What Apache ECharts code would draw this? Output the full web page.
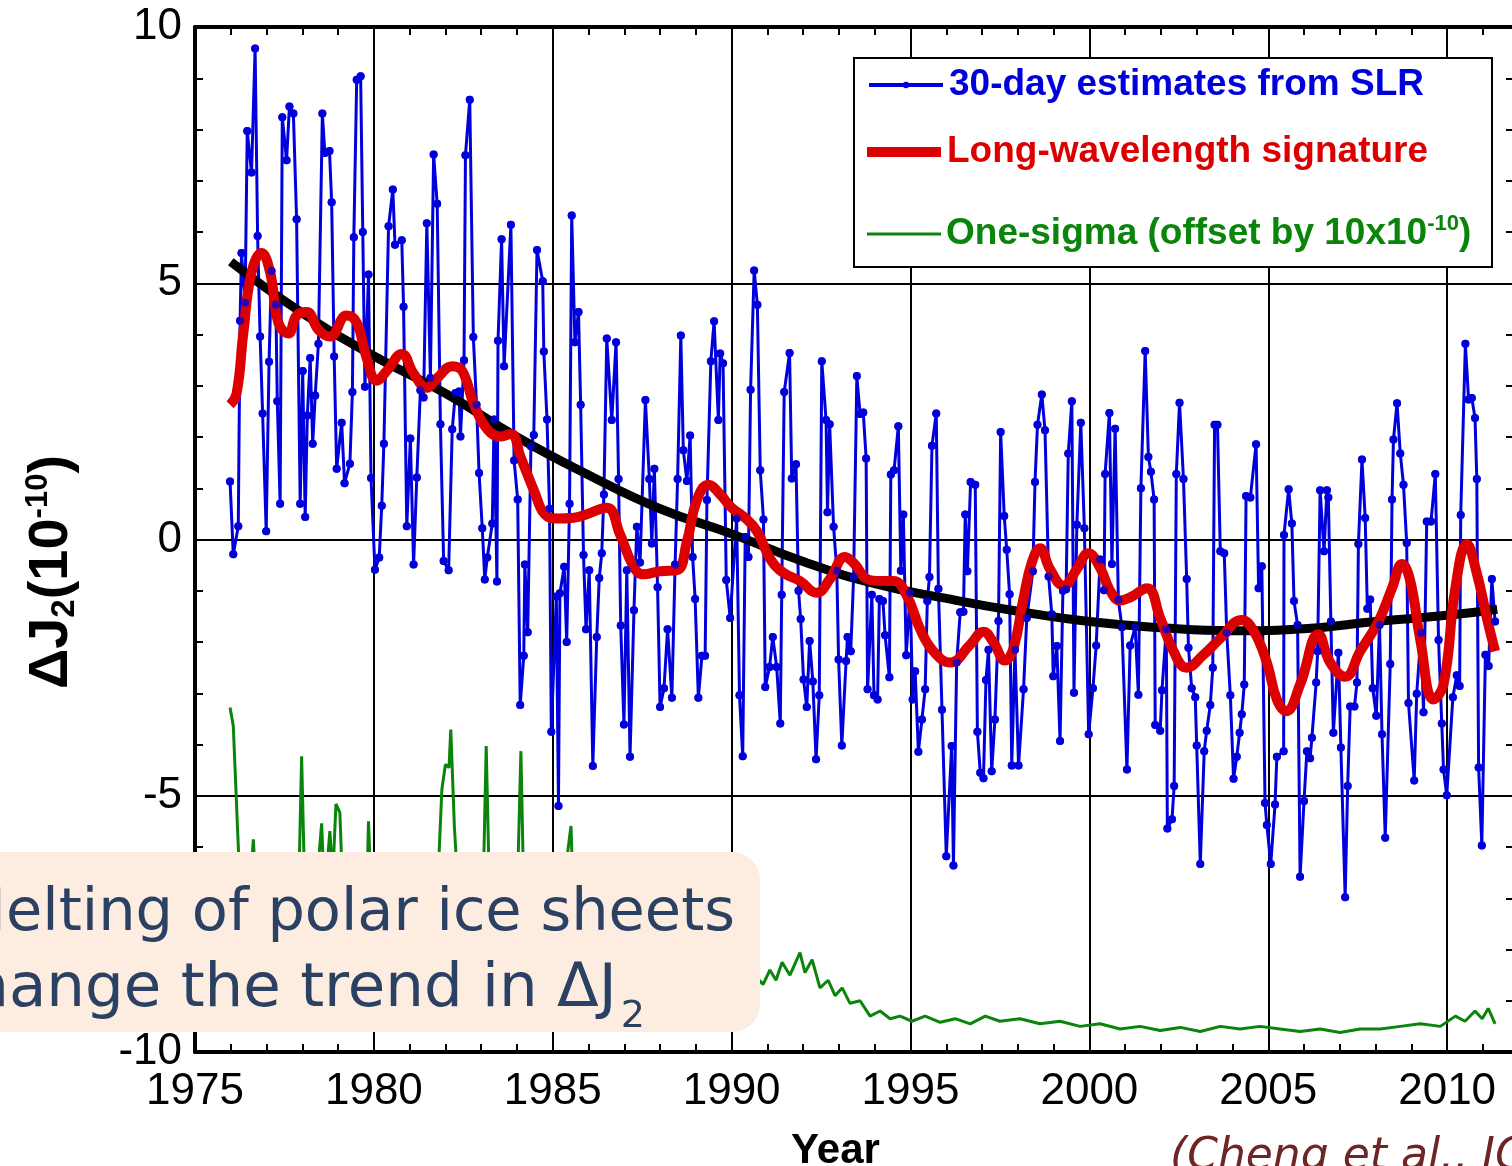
<!DOCTYPE html>
<html>
<head>
<meta charset="utf-8">
<script src="https://cdn.jsdelivr.net/npm/echarts@6/dist/echarts.min.js"></script>
<style>
  html, body { margin: 0; padding: 0; background: #ffffff; }
  #chart { width: 1512px; height: 1166px; }
</style>
</head>
<body>
<div id="chart"></div>
<script>
// 30-day J2 estimates from satellite laser ranging (units of 1e-10)
const slrYear = [
  1975.98,1976.07,1976.21,1976.26,1976.30,1976.40,1976.46,1976.58,1976.68,1976.75,1976.82,1976.89,1976.99,
  1977.07,1977.14,1977.26,1977.30,1977.38,1977.44,1977.56,1977.64,1977.75,1977.84,1977.94,
  1978.01,1978.08,1978.14,1978.22,1978.29,1978.36,1978.45,1978.56,1978.63,1978.76,1978.82,1978.89,1978.96,
  1979.10,1979.18,1979.33,1979.40,1979.44,1979.52,1979.63,1979.69,1979.75,1979.85,1979.92,
  1980.03,1980.15,1980.22,1980.28,1980.41,1980.53,1980.59,1980.78,1980.83,1980.92,
  1981.02,1981.11,1981.20,1981.30,1981.39,1981.48,1981.58,1981.67,1981.77,1981.86,1981.95,
  1982.09,1982.19,1982.28,1982.38,1982.42,1982.52,1982.56,1982.68,1982.78,1982.87,1982.94,
  1983.03,1983.10,1983.17,1983.31,1983.36,1983.44,1983.47,1983.57,1983.64,1983.83,1983.92,
  1984.02,1984.09,1984.19,1984.22,1984.30,1984.39,1984.47,1984.56,1984.72,1984.75,1984.84,1984.91,1984.96,
  1985.10,1985.16,1985.20,1985.32,1985.39,1985.47,1985.53,1985.62,1985.72,1985.78,1985.86,1985.93,
  1986.02,1986.12,1986.23,1986.30,1986.37,1986.43,1986.51,1986.65,1986.77,1986.84,1986.90,1986.99,
  1987.07,1987.16,1987.27,1987.35,1987.44,1987.59,1987.70,1987.77,1987.84,1987.93,
  1988.00,1988.11,1988.21,1988.33,1988.42,1988.49,1988.58,1988.65,1988.75,1988.84,1988.91,1988.98,
  1989.07,1989.17,1989.26,1989.31,1989.42,1989.51,1989.63,1989.68,1989.76,1989.85,1989.96,
  1990.14,1990.22,1990.31,1990.38,1990.47,1990.53,1990.63,1990.72,1990.80,1990.89,1990.94,
  1991.06,1991.15,1991.26,1991.36,1991.40,1991.47,1991.62,1991.68,1991.80,1991.87,1991.93,
  1992.01,1992.10,1992.18,1992.27,1992.36,1992.45,1992.52,1992.64,1992.68,1992.74,1992.85,1992.94,1992.99,
  1993.08,1993.20,1993.24,1993.33,1993.41,1993.50,1993.59,1993.68,1993.76,1993.80,1993.92,1993.98,
  1994.08,1994.13,1994.23,1994.29,1994.41,1994.45,1994.54,1994.66,1994.73,1994.80,1994.88,1994.99,
  1995.06,1995.13,1995.22,1995.32,1995.41,1995.47,1995.53,1995.60,1995.72,1995.78,1995.88,
  1996.00,1996.15,1996.20,1996.29,1996.39,1996.48,1996.53,1996.59,1996.68,1996.81,1996.87,1996.95,
  1997.04,1997.11,1997.18,1997.27,1997.36,1997.46,1997.52,1997.62,1997.69,1997.77,1997.83,1997.92,
  1998.02,1998.16,1998.25,1998.42,1998.48,1998.55,1998.67,1998.76,1998.86,1998.95,1998.99,
  1999.09,1999.18,1999.26,1999.35,1999.41,1999.51,1999.57,1999.65,1999.76,1999.86,1999.98,
  2000.10,2000.19,2000.30,2000.41,2000.44,2000.56,2000.63,2000.72,2000.81,2000.91,
  2001.05,2001.14,2001.28,2001.37,2001.44,2001.56,2001.65,2001.72,2001.81,2001.84,2001.98,
  2002.03,2002.15,2002.18,2002.31,2002.37,2002.43,2002.52,2002.63,2002.72,2002.77,2002.86,2002.96,
  2003.00,2003.10,2003.21,2003.28,2003.38,2003.45,2003.50,2003.58,2003.66,2003.77,2003.84,2003.94,
  2004.03,2004.12,2004.20,2004.26,2004.33,2004.38,2004.50,2004.66,2004.73,2004.82,2004.91,2004.96,
  2005.07,2005.19,2005.24,2005.43,2005.44,2005.57,2005.66,2005.72,2005.82,2005.89,
  2006.00,2006.08,2006.17,2006.22,2006.34,2006.38,2006.45,2006.56,2006.64,2006.68,2006.75,2006.82,2006.96,
  2007.03,2007.15,2007.22,2007.29,2007.41,2007.48,2007.52,2007.62,2007.71,2007.77,2007.85,2007.92,
  2008.02,2008.11,2008.18,2008.27,2008.41,2008.46,2008.50,2008.60,2008.69,2008.78,2008.87,2008.92,
  2009.08,2009.15,2009.27,2009.34,2009.43,2009.55,2009.67,2009.76,2009.85,2009.90,2009.99,
  2010.16,2010.27,2010.35,2010.38,2010.51,2010.60,2010.69,2010.78,2010.83,2010.88,2010.97,
  2011.07,2011.16,2011.25,2011.34
];
const slrValue = [
  1.13,-0.29,0.26,4.27,5.59,4.62,7.97,7.16,9.58,5.92,3.96,2.46,0.16,
  3.47,5.24,4.58,2.70,0.70,8.24,7.40,8.45,8.31,6.25,0.70,
  3.29,0.44,2.42,3.54,1.87,2.81,3.82,8.31,7.54,7.58,6.58,3.57,1.38,
  2.28,1.10,1.48,2.88,5.90,8.97,9.04,6.00,2.98,5.17,1.20,
  -0.59,-0.35,0.66,1.87,6.11,6.83,5.75,5.84,4.54,0.26,
  1.97,-0.49,1.21,2.91,2.77,6.17,3.15,7.51,6.55,2.25,-0.42,
  -0.60,2.15,2.86,2.89,2.01,3.50,7.50,8.58,3.95,2.63,1.30,
  0.22,-0.78,-0.35,0.31,2.34,-0.82,3.88,5.86,3.38,6.14,1.54,
  0.78,-3.23,-2.27,-0.49,-1.81,1.82,2.04,5.65,5.04,3.67,2.34,0.60,-3.75,
  -1.11,-5.20,-1.05,-0.53,-2.00,0.70,6.32,3.85,4.44,2.63,-0.30,-1.75,
  -0.60,-4.42,-1.90,-0.75,-0.27,0.88,3.92,2.33,3.85,1.18,-1.68,-3.61,
  -0.60,-4.24,-1.38,0.25,-0.45,2.72,1.18,-0.08,1.38,-0.93,
  -3.27,-2.90,-1.75,-3.09,-0.49,1.18,3.98,1.74,1.14,2.03,-0.34,-1.16,
  -3.09,-2.27,-2.27,0.77,3.48,4.26,2.33,3.63,3.44,-0.79,-1.53,
  0.41,-3.04,-4.23,0.05,-0.34,2.92,5.25,4.58,1.35,0.39,-2.88,
  -2.49,-1.90,-2.49,-3.59,-1.08,2.88,3.64,1.19,1.47,-1.00,-1.55,
  -2.73,-3.27,-1.98,-2.77,-4.29,-3.04,3.48,2.33,0.53,2.25,0.25,-0.61,-2.34,
  -4.02,-2.37,-1.90,-2.18,-0.73,3.19,2.45,2.48,1.58,-2.92,-1.08,-3.04,
  -3.12,-1.16,-1.20,-1.87,-2.69,1.27,1.35,2.21,-0.61,0.49,-2.26,-1.04,
  -3.12,-2.57,-4.14,-3.51,-2.92,-1.20,-0.73,1.83,2.46,-0.96,-3.32,
  -6.18,-4.03,-6.36,-2.40,-1.42,-1.41,0.49,-0.62,1.12,1.07,-3.75,-4.55,
  -4.66,-2.74,-2.15,-4.52,-3.51,-1.59,2.10,0.46,-0.20,-1.07,-4.41,-2.15,
  -4.41,-2.92,-1.53,-0.62,1.12,2.24,2.83,2.13,-0.72,-1.46,-2.67,
  -2.08,-3.93,-1.00,-0.97,1.68,2.70,-2.99,0.29,2.28,0.22,-3.80,
  -2.90,-2.07,-0.39,-0.99,1.28,2.47,-0.48,2.16,-1.17,-1.71,
  -4.49,-2.07,-1.71,-3.03,1.00,3.68,1.61,1.32,0.78,-3.62,-3.73,
  -2.94,-1.75,-5.64,-5.46,-4.81,1.28,2.67,1.18,-0.77,-2.11,-2.90,-3.08,
  -4.02,-6.33,-4.13,-3.73,-3.23,-2.50,2.24,2.24,-0.23,-0.27,-1.82,-3.04,
  -4.67,-4.24,-3.77,-3.41,-2.83,0.85,0.82,1.86,-0.95,-0.52,-5.14,-5.57,
  -6.33,-5.17,-4.24,-4.13,0.09,0.98,0.31,-1.20,-1.67,-6.58,
  -5.10,-4.13,-4.27,-3.87,-2.79,-2.18,0.96,-0.23,0.96,0.82,-1.60,-3.77,-2.21,
  -4.06,-6.98,-4.81,-3.26,-3.26,-2.79,-0.09,1.56,0.42,-1.35,-1.17,-2.90,
  -3.44,-1.67,-3.80,-5.82,-2.43,0.78,1.95,2.66,1.68,1.07,-0.07,-3.19,
  -4.70,-3.01,-1.82,-3.37,0.35,0.35,1.28,-1.96,-3.59,-4.49,-4.99,
  -3.08,-2.65,-2.86,0.48,3.82,2.73,2.76,2.37,1.18,-4.45,-5.97,
  -2.25,-2.47,-0.77,-1.60
];

// Long-wavelength signature
const longYear = [
  1975.98,1976.16,1976.35,1976.58,1976.86,1977.10,1977.33,1977.61,1977.84,1978.12,1978.45,1978.77,
  1979.24,1979.52,1979.80,1980.08,1980.36,1980.78,1981.11,1981.48,1981.77,1982.19,1982.47,1982.80,
  1983.17,1983.55,1983.83,1984.11,1984.49,1984.77,1985.14,1985.52,1985.86,1986.51,1986.88,1987.26,
  1987.53,1988.00,1988.47,1988.75,1989.03,1989.35,1989.68,1990.00,1990.33,1990.70,1991.08,1991.45,
  1991.91,1992.38,1992.75,1993.17,1993.45,1993.78,1994.15,1994.52,1994.90,1995.27,1995.64,1996.11,
  1996.67,1997.04,1997.32,1997.64,1997.88,1998.16,1998.39,1998.62,1998.90,1999.28,1999.65,1999.97,
  2000.30,2000.58,2000.86,2001.14,2001.61,2001.98,2002.35,2002.72,2003.19,2003.66,2004.26,2004.59,
  2004.96,2005.24,2005.50,2005.89,2006.40,2006.73,2007.15,2007.57,2008.08,2008.46,2008.74,2008.97,
  2009.25,2009.62,2009.90,2010.23,2010.55,2010.83,2011.11,2011.34
];
const longValue = [
  2.63,2.84,4.02,5.21,5.59,5.21,4.23,4.02,4.37,4.44,4.09,3.96,
  4.37,4.23,3.54,3.10,3.29,3.62,3.24,2.96,3.15,3.38,3.29,2.63,
  2.15,2.01,2.06,1.59,0.93,0.50,0.41,0.42,0.47,0.62,0.10,-0.53,
  -0.68,-0.62,-0.60,-0.04,0.77,1.07,0.88,0.62,0.45,0.17,-0.38,-0.65,
  -0.81,-1.04,-0.77,-0.34,-0.49,-0.77,-0.81,-0.81,-1.10,-1.75,-2.18,-2.40,
  -2.05,-1.80,-2.01,-2.36,-2.12,-1.14,-0.45,-0.17,-0.58,-0.90,-0.58,-0.27,
  -0.55,-1.00,-1.19,-1.13,-0.95,-1.53,-2.18,-2.50,-2.25,-1.93,-1.57,-1.78,
  -2.40,-3.12,-3.35,-2.83,-1.85,-2.40,-2.68,-2.18,-1.60,-0.95,-0.48,-0.81,
  -1.96,-3.12,-2.83,-0.95,-0.09,-0.66,-1.53,-2.18
];

// Fitted secular trend
const trendYear = [1976.0,1978.0,1980.0,1982.0,1984.0,1986.0,1988.0,1990.0,1992.0,1994.0,1996.0,1998.0,2000.0,2002.0,2004.0,2006.0,2008.0,2010.0,2011.4];
const trendValue = [5.42,4.42,3.58,2.85,2.00,1.26,0.60,0.11,-0.43,-0.86,-1.15,-1.40,-1.60,-1.72,-1.78,-1.74,-1.60,-1.48,-1.36];

// One-sigma uncertainty, drawn offset by -10
const sigmaYear = [
  1975.98,1976.07,1976.21,1976.30,1976.50,1976.63,1976.75,1977.00,1977.30,1977.60,1977.90,1977.98,
  1978.08,1978.30,1978.54,1978.62,1978.77,1978.85,1978.94,1979.05,1979.15,1979.50,1979.80,1979.85,
  1979.95,1980.30,1980.70,1981.10,1981.50,1981.80,1981.90,1982.00,1982.10,1982.15,1982.25,1982.40,
  1982.80,1983.05,1983.14,1983.24,1983.60,1984.00,1984.11,1984.20,1984.70,1985.20,1985.51,1985.60,
  1986.00,1986.50,1987.00,1987.50,1988.00,1988.50,1989.00,1989.50,1990.00,1990.50,1990.88,1991.07,
  1991.24,1991.41,1991.63,1991.91,1992.05,1992.25,1992.47,1992.70,1992.89,1993.09,1993.31,1993.59,
  1993.87,1994.15,1994.43,1994.71,1995.04,1995.41,1995.83,1996.25,1996.67,1997.09,1997.50,1998.06,
  1998.62,1999.18,1999.74,2000.30,2000.86,2001.42,2001.98,2002.54,2003.10,2003.66,2004.21,2004.77,
  2005.33,2005.89,2006.45,2007.01,2007.57,2008.13,2008.69,2009.25,2009.81,2010.23,2010.50,2010.78,
  2010.98,2011.15,2011.34
];
const sigmaValue = [
  -3.28,-3.64,-5.99,-7.60,-7.20,-5.85,-7.40,-7.80,-7.50,-7.90,-6.80,-4.23,
  -7.20,-7.60,-5.54,-7.00,-5.69,-6.60,-5.16,-5.33,-7.30,-7.80,-6.90,-5.50,
  -7.40,-7.90,-7.50,-8.00,-7.60,-6.50,-4.88,-4.39,-4.45,-3.71,-5.60,-7.40,
  -7.80,-7.00,-4.03,-7.20,-7.80,-7.10,-4.13,-7.30,-7.90,-7.30,-5.59,-7.50,
  -7.90,-7.60,-8.00,-7.70,-8.10,-7.80,-8.20,-7.90,-8.30,-8.40,-8.68,-8.40,
  -8.60,-8.25,-8.50,-8.06,-8.45,-8.20,-8.75,-8.60,-8.90,-8.75,-9.05,-9.00,
  -9.30,-9.20,-9.35,-9.30,-9.40,-9.30,-9.42,-9.35,-9.45,-9.30,-9.40,-9.35,
  -9.45,-9.40,-9.50,-9.45,-9.55,-9.50,-9.58,-9.52,-9.60,-9.50,-9.55,-9.50,
  -9.55,-9.60,-9.55,-9.62,-9.55,-9.55,-9.50,-9.45,-9.50,-9.30,-9.40,-9.20,
  -9.35,-9.15,-9.45
];

// Axis ticks: the year axis runs to 2015 so its minor ticks fall on whole years;
// the window shows the part up to about 2011.8
const yearTicks = { min: 1975, max: 2015, major: 5 };
const j2Ticks = { min: -10, max: 10, major: 5 };

const zip = (xs, ys) => xs.map((x, i) => [x, ys[i]]);

const BLUE = '#0000dc';
const RED = '#dd0000';
const GREEN = '#0a840a';
const LABEL_FONT = 'Liberation Sans, Arial, sans-serif';

const chart = echarts.init(document.getElementById('chart'), null, { renderer: 'canvas' });

const tickStyle = { show: true, inside: true, length: 12, lineStyle: { color: '#000', width: 2 } };
const minorTickStyle = { show: true, splitNumber: 5, length: 8, lineStyle: { color: '#000', width: 2 } };

function legendDef(name, top, color, extra) {
  return Object.assign({
    data: [name],
    left: 867,
    top: top,
    orient: 'vertical',
    padding: 0,
    itemWidth: 74,
    itemHeight: 10,
    selectedMode: false,
    z: 60,
    textStyle: {
      color: color,
      fontFamily: LABEL_FONT,
      fontWeight: 'bold',
      fontSize: 37,
      lineHeight: 42,
      padding: [0, 0, 0, 1]
    }
  }, extra || {});
}

const option = {
  animation: false,
  backgroundColor: '#ffffff',
  grid: { left: 195, right: -114, top: 27, bottom: 114, containLabel: false, outerBoundsMode: 'none' },
  xAxis: [
    {
      type: 'value',
      position: 'bottom',
      min: yearTicks.min, max: yearTicks.max, interval: yearTicks.major,
      axisLine: { show: true, onZero: false, lineStyle: { color: '#000', width: 4 } },
      axisTick: tickStyle,
      minorTick: minorTickStyle,
      axisLabel: {
        show: true, showMaxLabel: false, margin: 18,
        color: '#000', fontFamily: LABEL_FONT, fontSize: 44,
        formatter: (v) => String(v)
      },
      splitLine: { show: true, lineStyle: { color: '#000', width: 2 } },
      name: 'Year',
      nameLocation: 'middle',
      nameGap: 78,
      nameTextStyle: { color: '#000', fontFamily: LABEL_FONT, fontWeight: 'bold', fontSize: 42, padding: [0, 150, 0, 0] }
    },
    {
      type: 'value',
      position: 'top',
      min: yearTicks.min, max: yearTicks.max, interval: yearTicks.major,
      axisLine: { show: true, onZero: false, lineStyle: { color: '#000', width: 4 } },
      axisTick: tickStyle,
      minorTick: minorTickStyle,
      axisLabel: { show: false },
      splitLine: { show: false }
    }
  ],
  yAxis: [
    {
      type: 'value',
      position: 'left',
      min: j2Ticks.min, max: j2Ticks.max, interval: j2Ticks.major,
      axisLine: { show: true, onZero: false, lineStyle: { color: '#000', width: 4 } },
      axisTick: tickStyle,
      minorTick: minorTickStyle,
      splitLine: { show: true, lineStyle: { color: '#000', width: 2 } },
      axisLabel: { margin: 13, color: '#000', fontFamily: LABEL_FONT, fontSize: 44 }
    },
    {
      type: 'value',
      position: 'right',
      offset: -112,
      min: j2Ticks.min, max: j2Ticks.max, interval: j2Ticks.major,
      axisLine: { show: true, onZero: false, lineStyle: { color: '#000', width: 4 } },
      axisTick: tickStyle,
      minorTick: minorTickStyle,
      splitLine: { show: false },
      axisLabel: { show: false }
    }
  ],
  legend: [
    legendDef('30-day estimates from SLR', 64, BLUE, { lineStyle: { width: 4 }, itemHeight: 8 }),
    legendDef('Long-wavelength signature', 131, RED, { icon: 'rect', itemHeight: 10 }),
    legendDef('One-sigma (offset by 10x10-10)', 213, GREEN, {
      icon: 'rect', itemHeight: 3,
      formatter: () => '{t|One-sigma (offset by 10x10}{p|-10}{t|)}',
      textStyle: {
        color: GREEN, fontFamily: LABEL_FONT, fontWeight: 'bold', fontSize: 37, lineHeight: 42,
        rich: {
          t: { color: GREEN, fontFamily: LABEL_FONT, fontWeight: 'bold', fontSize: 37, lineHeight: 42 },
          p: { color: GREEN, fontFamily: LABEL_FONT, fontWeight: 'bold', fontSize: 22, lineHeight: 22, verticalAlign: 'top' }
        }
      }
    })
  ],
  series: [
    {
      name: '30-day estimates from SLR',
      type: 'line',
      data: zip(slrYear, slrValue),
      symbol: 'circle',
      symbolSize: 8,
      showSymbol: true,
      lineStyle: { color: BLUE, width: 3 },
      itemStyle: { color: BLUE },
      z: 2
    },
    {
      name: 'One-sigma (offset by 10x10-10)',
      type: 'line',
      data: zip(sigmaYear, sigmaValue),
      symbol: 'none',
      lineStyle: { color: GREEN, width: 3 },
      itemStyle: { color: GREEN },
      z: 2
    },
    {
      name: 'trend',
      type: 'line',
      data: zip(trendYear, trendValue),
      smooth: 0.5,
      symbol: 'none',
      lineStyle: { color: '#000', width: 9 },
      itemStyle: { color: '#000' },
      z: 3
    },
    {
      name: 'Long-wavelength signature',
      type: 'line',
      data: zip(longYear, longValue),
      smooth: 0.45,
      symbol: 'none',
      lineStyle: { color: RED, width: 10 },
      itemStyle: { color: RED },
      z: 4
    },
    {
      // dots of the 30-day estimates sit above the smooth curves
      type: 'scatter',
      data: zip(slrYear, slrValue),
      symbol: 'circle',
      symbolSize: 8,
      itemStyle: { color: BLUE },
      silent: true,
      z: 5
    },
    {
      // invisible copy of the trend on the top/right axes so they carry ticks
      type: 'line',
      xAxisIndex: 1,
      yAxisIndex: 1,
      data: zip(trendYear, trendValue),
      symbol: 'none',
      lineStyle: { opacity: 0, width: 0 },
      silent: true,
      z: 0
    }
  ],
  graphic: [
    {
      type: 'rect',
      shape: { x: 854, y: 58, width: 638, height: 209 },
      style: { fill: '#ffffff', stroke: '#000', lineWidth: 2 },
      z: 50
    },
    {
      type: 'text',
      x: 52, y: 572,
      rotation: Math.PI / 2,
      style: {
        text: '{b|ΔJ}{s|2}{b|(10}{p|-10}{b|)}',
        align: 'center',
        verticalAlign: 'middle',
        rich: {
          b: { fill: '#000', fontFamily: LABEL_FONT, fontWeight: 'bold', fontSize: 56, lineHeight: 58 },
          s: { fill: '#000', fontFamily: LABEL_FONT, fontWeight: 'bold', fontSize: 33, lineHeight: 30, verticalAlign: 'bottom' },
          p: { fill: '#000', fontFamily: LABEL_FONT, fontWeight: 'bold', fontSize: 31, lineHeight: 30, verticalAlign: 'top' }
        }
      },
      z: 50
    },
    {
      type: 'rect',
      shape: { x: -40, y: 852, width: 800, height: 180, r: 28 },
      style: { fill: '#fdece0' },
      z: 100
    },
    {
      type: 'text',
      x: 735, y: 915,
      style: {
        text: 'Melting of polar ice sheets',
        fill: '#2b4163',
        font: '59px "DejaVu Sans", sans-serif',
        align: 'right',
        verticalAlign: 'middle'
      },
      z: 101
    },
    {
      type: 'text',
      x: 645, y: 990,
      style: {
        text: '{t|change the trend in ΔJ}{s|2}',
        align: 'right',
        verticalAlign: 'middle',
        rich: {
          t: { fill: '#2b4163', fontFamily: '"DejaVu Sans", sans-serif', fontSize: 61, lineHeight: 64 },
          s: { fill: '#2b4163', fontFamily: '"DejaVu Sans", sans-serif', fontSize: 38, lineHeight: 40, verticalAlign: 'bottom', padding: [0, 0, -14, 4] }
        }
      },
      z: 101
    },
    {
      type: 'text',
      x: 1170, y: 1136,
      style: {
        text: '(Cheng et al., JGR 2013)',
        fill: '#6e2525',
        font: 'italic 44px "DejaVu Sans", sans-serif',
        align: 'left',
        verticalAlign: 'top'
      },
      z: 101
    }
  ]
};

chart.setOption(option);
</script>
</body>
</html>
